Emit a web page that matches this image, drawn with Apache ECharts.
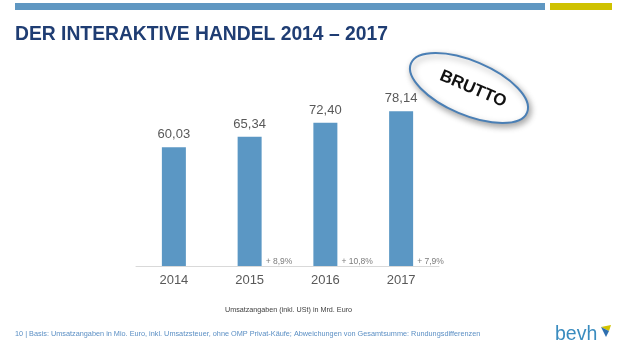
<!DOCTYPE html>
<html>
<head>
<meta charset="utf-8">
<script src="https://cdn.jsdelivr.net/npm/echarts@6/dist/echarts.min.js"></script>
<style>
  html, body { margin: 0; padding: 0; background: #fff; }
  #main { width: 620px; height: 350px; }
</style>
</head>
<body>
<div id="main"></div>
<script>
var years = ['2014', '2015', '2016', '2017'];
var umsatz = [60.03, 65.34, 72.40, 78.14];
var wachstum = [null, '+ 8,9%', '+ 10,8%', '+ 7,9%'];

var myChart = echarts.init(document.getElementById('main'));

function fmt(v) {
	return v.toFixed(2).replace('.', ',');
}

var pctData = [];
for (var i = 0; i < years.length; i++) {
	if (wachstum[i]) {
		pctData.push({ value: [years[i], 0], name: wachstum[i] });
	}
}

option = {
	backgroundColor: '#fff',
	textStyle: { fontFamily: 'Liberation Sans, Arial, sans-serif' },
	grid: {
		left: 136,
		right: 181,
		top: 68,
		bottom: 84
	},
	xAxis: {
		type: 'category',
		data: years,
		axisLine: { lineStyle: { color: '#d9d9d9' } },
		axisTick: { show: false },
		axisLabel: { color: '#595959', fontSize: 13, margin: 8 }
	},
	yAxis: {
		type: 'value',
		min: 0,
		max: 100,
		show: false
	},
	series: [
		{
			type: 'bar',
			data: umsatz,
			barWidth: 24,
			itemStyle: { color: '#5b97c4' },
			label: {
				show: true,
				position: 'top',
				distance: 6,
				color: '#595959',
				fontSize: 13,
				formatter: function (p) { return fmt(p.value); }
			}
		},
		{
			type: 'scatter',
			data: pctData,
			symbolSize: 0,
			silent: true,
			label: {
				show: true,
				position: 'right',
				distance: 16,
				offset: [0, -4],
				color: '#595959',
				fontSize: 8.5,
				formatter: function (p) { return p.name; }
			}
		}
	],
	graphic: [
		{ type: 'rect', shape: { x: 15, y: 3, width: 530, height: 7 }, style: { fill: '#5f97c2' } },
		{ type: 'rect', shape: { x: 550, y: 3, width: 62, height: 7 }, style: { fill: '#cfc200' } },
		{
			type: 'text', left: 15, top: 25,
			style: { text: 'DER INTERAKTIVE HANDEL 2014 \u2013 2017', fill: '#1f3d73', font: 'bold 19.3px "Liberation Sans", Arial, sans-serif' }
		},
		{
			type: 'ellipse', x: 469, y: 88, rotation: -0.4,
			shape: { cx: 0, cy: 0, rx: 63, ry: 27 },
			style: { fill: '#fff', stroke: '#4a7fb5', lineWidth: 2, shadowBlur: 6, shadowColor: 'rgba(0,0,0,0.35)', shadowOffsetX: 2, shadowOffsetY: 3 }
		},
		{
			type: 'text', x: 473, y: 89, rotation: -0.4,
			style: { text: 'BRUTTO', fill: '#111', font: 'bold 17px "Liberation Sans", Arial, sans-serif', align: 'center', verticalAlign: 'middle' }
		},
		{
			type: 'text', left: 225, top: 307,
			style: { text: 'Umsatzangaben (inkl. USt) in Mrd. Euro', fill: '#404040', font: '7.2px "Liberation Sans", Arial, sans-serif' }
		},
		{
			type: 'text', left: 15, top: 330,
			style: { text: '10 | Basis: Umsatzangaben in Mio. Euro, inkl. Umsatzsteuer, ohne OMP Privat-K\u00e4ufe; Abweichungen von Gesamtsumme: Rundungsdifferenzen', fill: '#5b8fc4', font: '7.3px "Liberation Sans", Arial, sans-serif' }
		},
		{
			type: 'text', left: 555, top: 325,
			style: { text: 'bevh', fill: '#3a8cbf', font: '19.5px "Liberation Sans", Arial, sans-serif' }
		},
		{ type: 'polygon', shape: { points: [[601, 327], [611, 325], [609, 331]] }, style: { fill: '#d4c400' } },
		{ type: 'polygon', shape: { points: [[601, 327], [609, 331], [606, 337]] }, style: { fill: '#2f6fb0' } }
	]
};

myChart.setOption(option);
</script>
</body>
</html>
